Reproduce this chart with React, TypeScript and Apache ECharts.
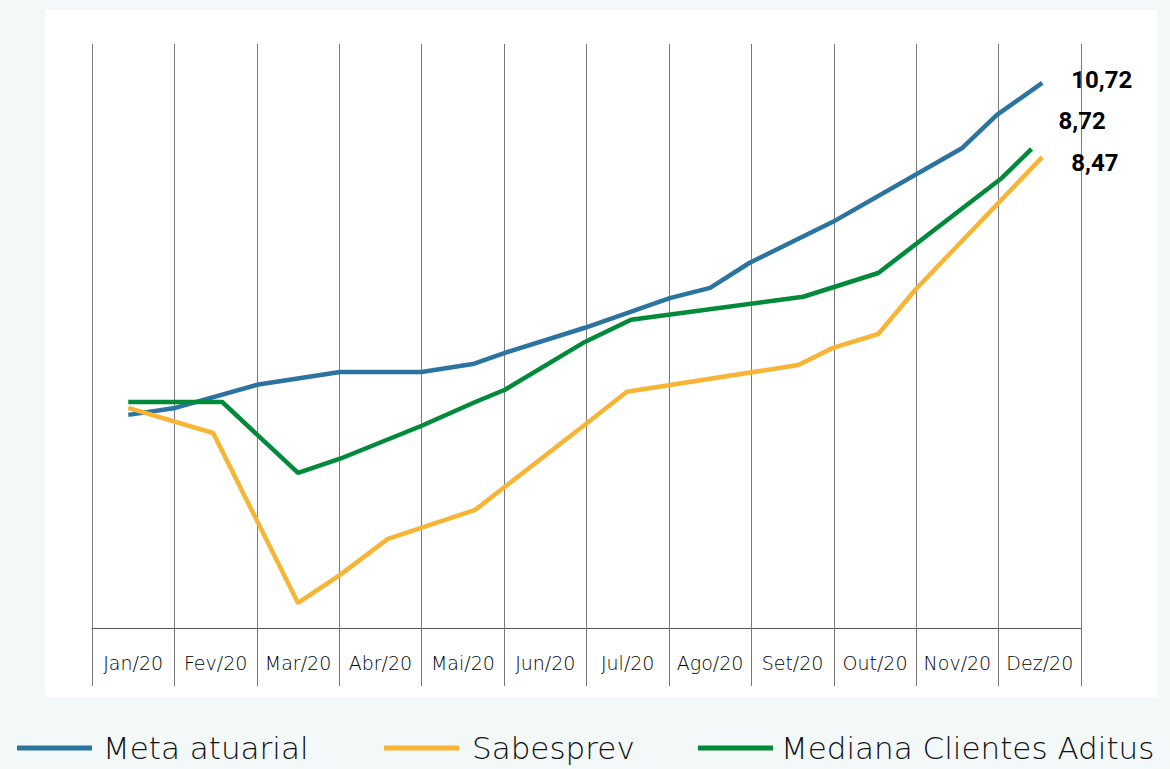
import React, { useEffect, useRef } from "react";
import * as echarts from "echarts";

// Category labels (months)
const months = ["Jan/20", "Fev/20", "Mar/20", "Abr/20", "Mai/20", "Jun/20", "Jul/20", "Ago/20", "Set/20", "Out/20", "Nov/20", "Dez/20"];

// Series: x = position in months (0 = start of Jan, 12 = end of Dez), y = accumulated %
const metaX = [0.44, 1.01, 2.0, 3.01, 4.0, 4.62, 5.01, 5.98, 7.01, 7.5, 7.98, 8.99, 10.56, 10.98, 11.53];
const metaY = [0.66, 0.87, 1.57, 1.96, 1.96, 2.2, 2.54, 3.3, 4.2, 4.51, 5.27, 6.51, 8.75, 9.75, 10.72];

const sabX = [0.44, 1.47, 2.5, 3.01, 3.59, 4.65, 5.01, 5.98, 6.49, 8.57, 8.99, 9.54, 10.0, 11.53];
const sabY = [0.87, 0.11, -5.04, -4.19, -3.1, -2.22, -1.52, 0.36, 1.36, 2.17, 2.69, 3.11, 4.48, 8.47];

const medX = [0.44, 1.58, 2.5, 3.01, 4.0, 4.65, 5.01, 5.98, 6.54, 8.63, 9.54, 11.04, 11.4];
const medY = [1.05, 1.05, -1.1, -0.67, 0.33, 1.05, 1.42, 2.87, 3.54, 4.24, 4.96, 7.84, 8.72];

const seriesNames = ["Meta atuarial", "Sabesprev", "Mediana Clientes Aditus"];
const endLabels = ["10,72", "8,47", "8,72"];

const zip = (xs: number[], ys: number[]) => xs.map((x, i) => [x, ys[i]]);

export default function App() {
  const ref = useRef<HTMLDivElement>(null);
  useEffect(() => {
    if (!ref.current) return;
    const chart = echarts.init(ref.current, null, { renderer: "svg" });
    const colors = ["#2b74a0", "#f8b435", "#028a3b"];
    const labelStyle = {
      fontSize: 24,
      fontWeight: "bold" as const,
      fontFamily: "Roboto",
      color: "#000",
    };
    const legendBase = {
      orient: "horizontal" as const,
      top: 732,
      padding: 0,
      itemWidth: 75,
      itemHeight: 5,
      icon: "rect",
      textStyle: {
        fontFamily: "DejaVu Sans",
        fontWeight: 200 as any,
        fontSize: 31,
        lineHeight: 32,
        color: "#111",
      },
    };
    chart.setOption({
      animation: false,
      backgroundColor: "#f3f8f8",
      graphic: [
        {
          type: "rect",
          z: -10,
          shape: { x: 45, y: 10, width: 1112, height: 687 },
          style: { fill: "#ffffff" },
        },
      ],
      legend: [
        { ...legendBase, left: 17, data: [seriesNames[0]], textStyle: { ...legendBase.textStyle, padding: [0, 0, 0, 6] } },
        { ...legendBase, left: 384, data: [seriesNames[1]], textStyle: { ...legendBase.textStyle, padding: [0, 0, 0, 8] } },
        { ...legendBase, left: 698, data: [seriesNames[2]], textStyle: { ...legendBase.textStyle, padding: [0, 0, 0, 3] } },
      ],
      grid: { left: 92, right: 89, top: 44, bottom: 141, containLabel: false },
      xAxis: [
        {
          type: "category",
          data: months,
          boundaryGap: true,
          axisLine: { show: true, onZero: false, lineStyle: { color: "#555", width: 1 } },
          axisTick: { show: true, length: 58, lineStyle: { color: "#777", width: 1 } },
          splitLine: { show: true, lineStyle: { color: "#7a7a7a", width: 1 } },
          axisLabel: {
            interval: 0,
            margin: 35,
            verticalAlign: "middle",
            fontFamily: "DejaVu Sans",
            fontWeight: 200 as any,
            fontSize: 19,
            color: "#000",
          },
        },
        {
          type: "value",
          min: 0,
          max: 12,
          show: false,
          axisLine: { onZero: false },
        },
      ],
      yAxis: {
        type: "value",
        min: -5.8,
        max: 11.9,
        show: false,
        splitLine: { show: false },
      },
      series: [
        {
          name: seriesNames[0],
          type: "line",
          xAxisIndex: 1,
          data: zip(metaX, metaY),
          showSymbol: false,
          color: colors[0],
          lineStyle: { width: 4.5, color: colors[0] },
          endLabel: { show: true, formatter: endLabels[0], offset: [21, -2.5], ...labelStyle },
        },
        {
          name: seriesNames[1],
          type: "line",
          xAxisIndex: 1,
          data: zip(sabX, sabY),
          showSymbol: false,
          color: colors[1],
          lineStyle: { width: 4.5, color: colors[1] },
          endLabel: { show: true, formatter: endLabels[1], offset: [21, 6], ...labelStyle },
        },
        {
          name: seriesNames[2],
          type: "line",
          xAxisIndex: 1,
          data: zip(medX, medY),
          showSymbol: false,
          color: colors[2],
          lineStyle: { width: 4.5, color: colors[2] },
          endLabel: { show: true, formatter: endLabels[2], offset: [19, -28], ...labelStyle },
        },
      ],
    });
    return () => chart.dispose();
  }, []);
  return (
    <div
      ref={ref}
      style={{ position: "fixed", left: 0, top: 0, width: 1170, height: 769 }}
    />
  );
}
